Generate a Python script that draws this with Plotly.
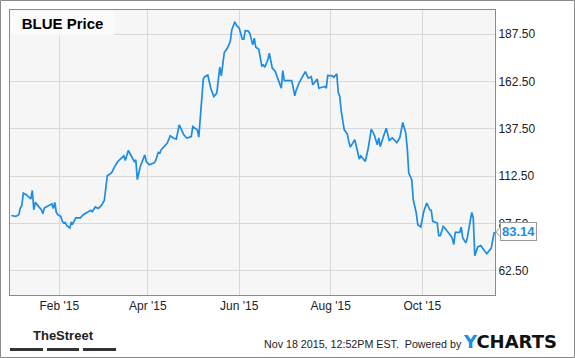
import plotly.graph_objects as go

dates = [
    "2014-12-31", "2015-01-03", "2015-01-05", "2015-01-06", "2015-01-07", "2015-01-08", "2015-01-10", "2015-01-12", "2015-01-13", "2015-01-14",
    "2015-01-15", "2015-01-16", "2015-01-18", "2015-01-20", "2015-01-21", "2015-01-22", "2015-01-25", "2015-01-27", "2015-01-28", "2015-01-29",
    "2015-01-30", "2015-01-31", "2015-02-02", "2015-02-03", "2015-02-04", "2015-02-05", "2015-02-06", "2015-02-08", "2015-02-09", "2015-02-10",
    "2015-02-12", "2015-02-15", "2015-02-17", "2015-02-20", "2015-02-22", "2015-02-23", "2015-02-25", "2015-02-27", "2015-03-01", "2015-03-03",
    "2015-03-05", "2015-03-07", "2015-03-08", "2015-03-10", "2015-03-12", "2015-03-16", "2015-03-17", "2015-03-19", "2015-03-21", "2015-03-23",
    "2015-03-24", "2015-03-25", "2015-03-27", "2015-03-30", "2015-03-31", "2015-04-02", "2015-04-05", "2015-04-06", "2015-04-08", "2015-04-09",
    "2015-04-10", "2015-04-12", "2015-04-14", "2015-04-16", "2015-04-18", "2015-04-20", "2015-04-21", "2015-04-22", "2015-04-24", "2015-04-25",
    "2015-04-27", "2015-04-30", "2015-05-01", "2015-05-04", "2015-05-05", "2015-05-08", "2015-05-09", "2015-05-11", "2015-05-13", "2015-05-15",
    "2015-05-17", "2015-05-19", "2015-05-20", "2015-05-22", "2015-05-24", "2015-05-26", "2015-05-27", "2015-05-29", "2015-05-30", "2015-06-01",
    "2015-06-03", "2015-06-04", "2015-06-05", "2015-06-07", "2015-06-08", "2015-06-10", "2015-06-11", "2015-06-12", "2015-06-14", "2015-06-16",
    "2015-06-17", "2015-06-18", "2015-06-20", "2015-06-21", "2015-06-23", "2015-06-25", "2015-06-27", "2015-06-29", "2015-06-30", "2015-07-01",
    "2015-07-04", "2015-07-06", "2015-07-08", "2015-07-09", "2015-07-11", "2015-07-13", "2015-07-15", "2015-07-17", "2015-07-19", "2015-07-20",
    "2015-07-23", "2015-07-24", "2015-07-26", "2015-07-28", "2015-07-29", "2015-07-30", "2015-08-02", "2015-08-03", "2015-08-05", "2015-08-06",
    "2015-08-07", "2015-08-08", "2015-08-10", "2015-08-12", "2015-08-13", "2015-08-14", "2015-08-17", "2015-08-18", "2015-08-20", "2015-08-21",
    "2015-08-24", "2015-08-26", "2015-08-28", "2015-08-30", "2015-09-01", "2015-09-02", "2015-09-03", "2015-09-05", "2015-09-07", "2015-09-09",
    "2015-09-11", "2015-09-14", "2015-09-16", "2015-09-18", "2015-09-20", "2015-09-21", "2015-09-22", "2015-09-24", "2015-09-25", "2015-09-27",
    "2015-09-28", "2015-09-30", "2015-10-02", "2015-10-04", "2015-10-06", "2015-10-07", "2015-10-08", "2015-10-11", "2015-10-12", "2015-10-13",
    "2015-10-15", "2015-10-16", "2015-10-18", "2015-10-20", "2015-10-21", "2015-10-22", "2015-10-23", "2015-10-26", "2015-10-27", "2015-10-28",
    "2015-10-30", "2015-10-31", "2015-11-01", "2015-11-03", "2015-11-04", "2015-11-05", "2015-11-07", "2015-11-09", "2015-11-11", "2015-11-13",
    "2015-11-16", "2015-11-18",
]

prices = [
    91.8, 91.3, 92.2, 95.7, 97.0, 103.6, 102.8, 101.5, 100.5, 105.0,
    94.8, 98.7, 97.0, 94.8, 92.7, 95.7, 97.0, 98.0, 95.5, 98.7,
    93.4, 92.2, 91.3, 88.7, 87.8, 88.1, 86.4, 85.2, 88.1, 87.5,
    90.5, 90.5, 92.2, 93.4, 94.5, 93.8, 96.3, 95.5, 97.0, 99.7,
    112.8, 113.8, 114.5, 117.7, 120.3, 123.3, 120.8, 126.1, 123.0, 120.3,
    121.2, 110.7, 117.7, 123.8, 120.3, 118.6, 119.5, 120.3, 125.1, 124.7,
    126.5, 128.2, 130.0, 133.9, 132.7, 132.1, 135.3, 139.7, 136.1, 134.4,
    132.7, 133.5, 138.8, 137.0, 133.2, 163.8, 165.1, 166.0, 159.0, 154.6,
    156.4, 170.1, 165.5, 177.8, 180.1, 183.6, 189.8, 194.1, 192.4, 190.7,
    184.9, 184.9, 189.4, 189.2, 188.0, 181.9, 185.4, 180.6, 179.6, 170.8,
    171.3, 170.1, 173.9, 177.5, 169.6, 167.8, 163.4, 159.0, 168.3, 163.0,
    163.0, 163.0, 155.0, 158.1, 162.0, 164.8, 167.8, 164.3, 165.1, 160.8,
    163.8, 159.0, 159.5, 159.9, 159.0, 165.7, 165.5, 164.8, 166.6, 156.7,
    154.6, 146.7, 137.0, 134.9, 130.9, 127.9, 131.8, 128.2, 121.6, 123.3,
    120.3, 127.4, 137.4, 134.4, 129.1, 132.7, 128.2, 133.2, 137.9, 131.4,
    132.7, 130.3, 132.7, 140.9, 135.3, 127.4, 114.2, 110.7, 100.1, 93.1,
    86.9, 85.7, 93.9, 98.4, 94.8, 94.5, 88.7, 87.8, 81.1, 81.1,
    86.0, 85.2, 83.4, 81.1, 79.9, 76.4, 82.9, 82.9, 85.7, 79.9,
    77.3, 79.9, 84.3, 93.4, 90.5, 70.6, 75.2, 75.9, 73.7, 71.6,
    74.6, 83.14,
]

y_ticks = [62.5, 87.5, 112.5, 137.5, 162.5, 187.5]
x_range = ["2014-12-30 03:00", "2015-11-18 12:00"]
y_range = [49.8, 200.3]
title_text = "BLUE Price"
footer_text = "Nov 18 2015, 12:52PM EST.  Powered by"
last_price = prices[-1]

BLUE = "#1b8de6"
FONT = "Arial, Liberation Sans, sans-serif"

fig = go.Figure()
fig.add_trace(go.Scatter(
    x=dates, y=prices, mode="lines",
    line=dict(color=BLUE, width=1.7),
    hoverinfo="skip", showlegend=False,
))

fig.update_layout(
    width=575, height=358,
    margin=dict(l=10, r=80, t=10, b=63),
    paper_bgcolor="white",
    plot_bgcolor="#f6f6f6",
    font=dict(family=FONT, size=12, color="#222222"),
    xaxis=dict(
        type="date", range=x_range,
        tick0="2015-02-01", dtick="M2", tickformat="%b '%y",
        showgrid=True, gridcolor="#d8d8d8", gridwidth=1,
        showline=True, linecolor="#8a8a8a", linewidth=1, mirror=True,
        ticks="", zeroline=False,
        tickfont=dict(family=FONT, size=12, color="#222222"),
    ),
    yaxis=dict(
        range=y_range, side="right",
        tickvals=y_ticks, tickformat=".2f",
        showgrid=True, gridcolor="#d8d8d8", gridwidth=1,
        showline=True, linecolor="#8a8a8a", linewidth=1, mirror=True,
        ticks="", zeroline=False,
        tickfont=dict(family=FONT, size=12, color="#222222"),
    ),
)

def px_x(px):
    return (px - 10) / 485.0

def px_y(py):
    return (295 - py) / 285.0

shapes = []
# outer frame
shapes.append(dict(type="rect", xref="paper", yref="paper",
                   x0=px_x(0.5), x1=px_x(574.5), y0=px_y(357.5), y1=px_y(0.5),
                   line=dict(color="#8a8a8a", width=1), fillcolor="rgba(0,0,0,0)", layer="above"))
# TheStreet bars
for a, b in [(10, 43), (47, 79), (83, 116)]:
    shapes.append(dict(type="rect", xref="paper", yref="paper",
                       x0=px_x(a), x1=px_x(b), y0=px_y(351), y1=px_y(348),
                       line=dict(width=0), fillcolor="#333333", layer="above"))
# last-price pointer
shapes.append(dict(type="path", xref="paper", xsizemode="pixel", xanchor=1,
                   yref="y", ysizemode="pixel", yanchor=last_price,
                   path="M 1,0 L 7,7 L 7,-7 Z",
                   fillcolor="white", line=dict(color="#999999", width=1), layer="above"))
fig.update_layout(shapes=shapes)

annotations = [
    dict(xref="paper", yref="paper", x=0, y=1, xanchor="left", yanchor="top",
         text="<b>" + title_text + "</b>", showarrow=False,
         font=dict(family=FONT, size=15, color="#000000"),
         bgcolor="rgba(252,252,252,0.85)", borderpad=0, width=103, height=24, align="center"),
    dict(xref="paper", yref="y", x=1, y=last_price, xanchor="left", yanchor="middle",
         xshift=5, text="<b>%.2f</b>" % last_price, showarrow=False,
         font=dict(family=FONT, size=13, color=BLUE),
         bgcolor="white", bordercolor="#999999", borderwidth=1, borderpad=1),
    dict(xref="paper", yref="paper", x=px_x(63.5), y=px_y(335), xanchor="center", yanchor="middle",
         text="<b>TheStreet</b>", showarrow=False,
         font=dict(family="Liberation Sans Narrow, Arial Narrow, Arial", size=13, color="#222222")),
    dict(xref="paper", yref="paper", x=px_x(463.5), y=px_y(344), xanchor="right", yanchor="middle",
         text=footer_text, showarrow=False,
         font=dict(family=FONT, size=10.7, color="#222222")),
    dict(xref="paper", yref="paper", x=px_x(461), y=px_y(341), xanchor="left", yanchor="middle",
         text="<b><span style='color:%s'>Y</span>CHARTS</b>" % BLUE, showarrow=False,
         font=dict(family="DejaVu Sans, Arial", size=18, color="#111111")),
]
fig.update_layout(annotations=annotations)

fig.write_html("out.html")
